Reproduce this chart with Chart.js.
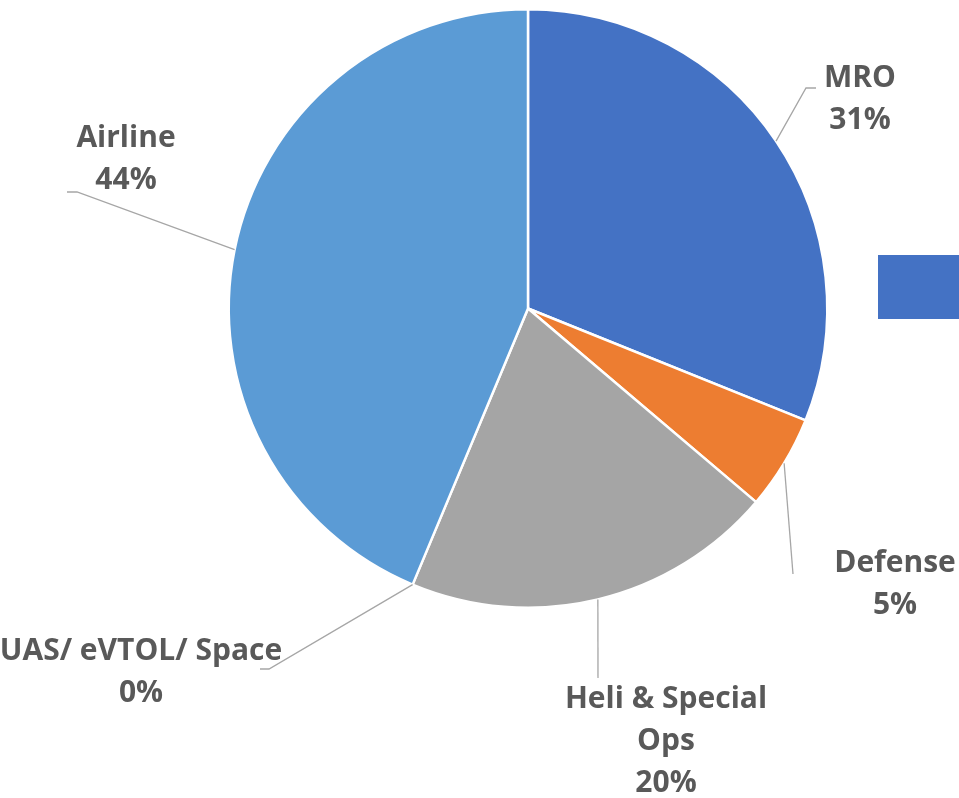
<!DOCTYPE html>
<html>
<head>
<meta charset="utf-8">
<script src="https://cdn.jsdelivr.net/npm/chart.js@4.4.0/dist/chart.umd.min.js"></script>
<style>
  html,body{margin:0;padding:0;background:#fff;}
  #wrap{width:959px;height:798px;position:relative;}
</style>
</head>
<body>
<div id="wrap"><canvas id="pie"></canvas></div>
<script>
// --- data ---
const categories = ['MRO','Defense','Heli & Special Ops','UAS/ eVTOL/ Space','Airline'];
const shares = [31.1, 5.1, 20.1, 0, 43.7];
const labelLines = [['MRO'],['Defense'],['Heli & Special','Ops'],['UAS/ eVTOL/ Space'],['Airline']];
const colors = ['#4472C4','#ED7D31','#A5A5A5','#FFC000','#5B9BD5'];

// label placement, Excel style (text centre x, first baseline, leader bend points)
const labelPos = [
  {x:860, y:87,  path:[[806,88],[816,88]]},
  {x:895, y:572, path:[[793,574]]},
  {x:666, y:708, path:[[598,678]]},
  {x:141, y:660, path:[[269,669],[260,669]]},
  {x:126, y:147, path:[[77,192],[67,192]]}
];
const lineGap = 42;

const total = shares.reduce((a,b)=>a+b,0);

const outsideLabels = {
  id:'outsideLabels',
  afterDraw(chart){
    const ctx = chart.ctx;
    const arcs = chart.getDatasetMeta(0).data;
    ctx.save();
    arcs.forEach((arc,i)=>{
      const p = labelPos[i];
      const mid = (arc.startAngle+arc.endAngle)/2;
      const sx = arc.x + Math.cos(mid)*arc.outerRadius;
      const sy = arc.y + Math.sin(mid)*arc.outerRadius;
      // leader line
      ctx.strokeStyle = '#A6A6A6';
      ctx.lineWidth = 1.3;
      ctx.beginPath();
      ctx.moveTo(sx,sy);
      p.path.forEach(pt=>ctx.lineTo(pt[0],pt[1]));
      ctx.stroke();
      // text
      ctx.fillStyle = '#595959';
      ctx.font = 'bold 30px "Open Sans"';
      ctx.textAlign = 'center';
      ctx.textBaseline = 'alphabetic';
      const pct = Math.round(shares[i]/total*100)+'%';
      const lines = labelLines[i].concat([pct]);
      lines.forEach((t,k)=>ctx.fillText(t,p.x,p.y+k*lineGap));
    });
    // legend swatch, cut off at the right edge
    ctx.fillStyle = colors[0];
    ctx.fillRect(878,255,90,64);
    ctx.restore();
  }
};

new Chart(document.getElementById('pie'),{
  type:'pie',
  data:{
    labels:categories,
    datasets:[{
      data:shares,
      backgroundColor:colors,
      borderColor:'#ffffff',
      borderWidth:2.5
    }]
  },
  options:{
    responsive:true,
    maintainAspectRatio:false,
    animation:false,
    events:[],
    layout:{padding:{left:227,top:8,right:130,bottom:189}},
    plugins:{legend:{display:false},tooltip:{enabled:false}}
  },
  plugins:[outsideLabels]
});
</script>
</body>
</html>
